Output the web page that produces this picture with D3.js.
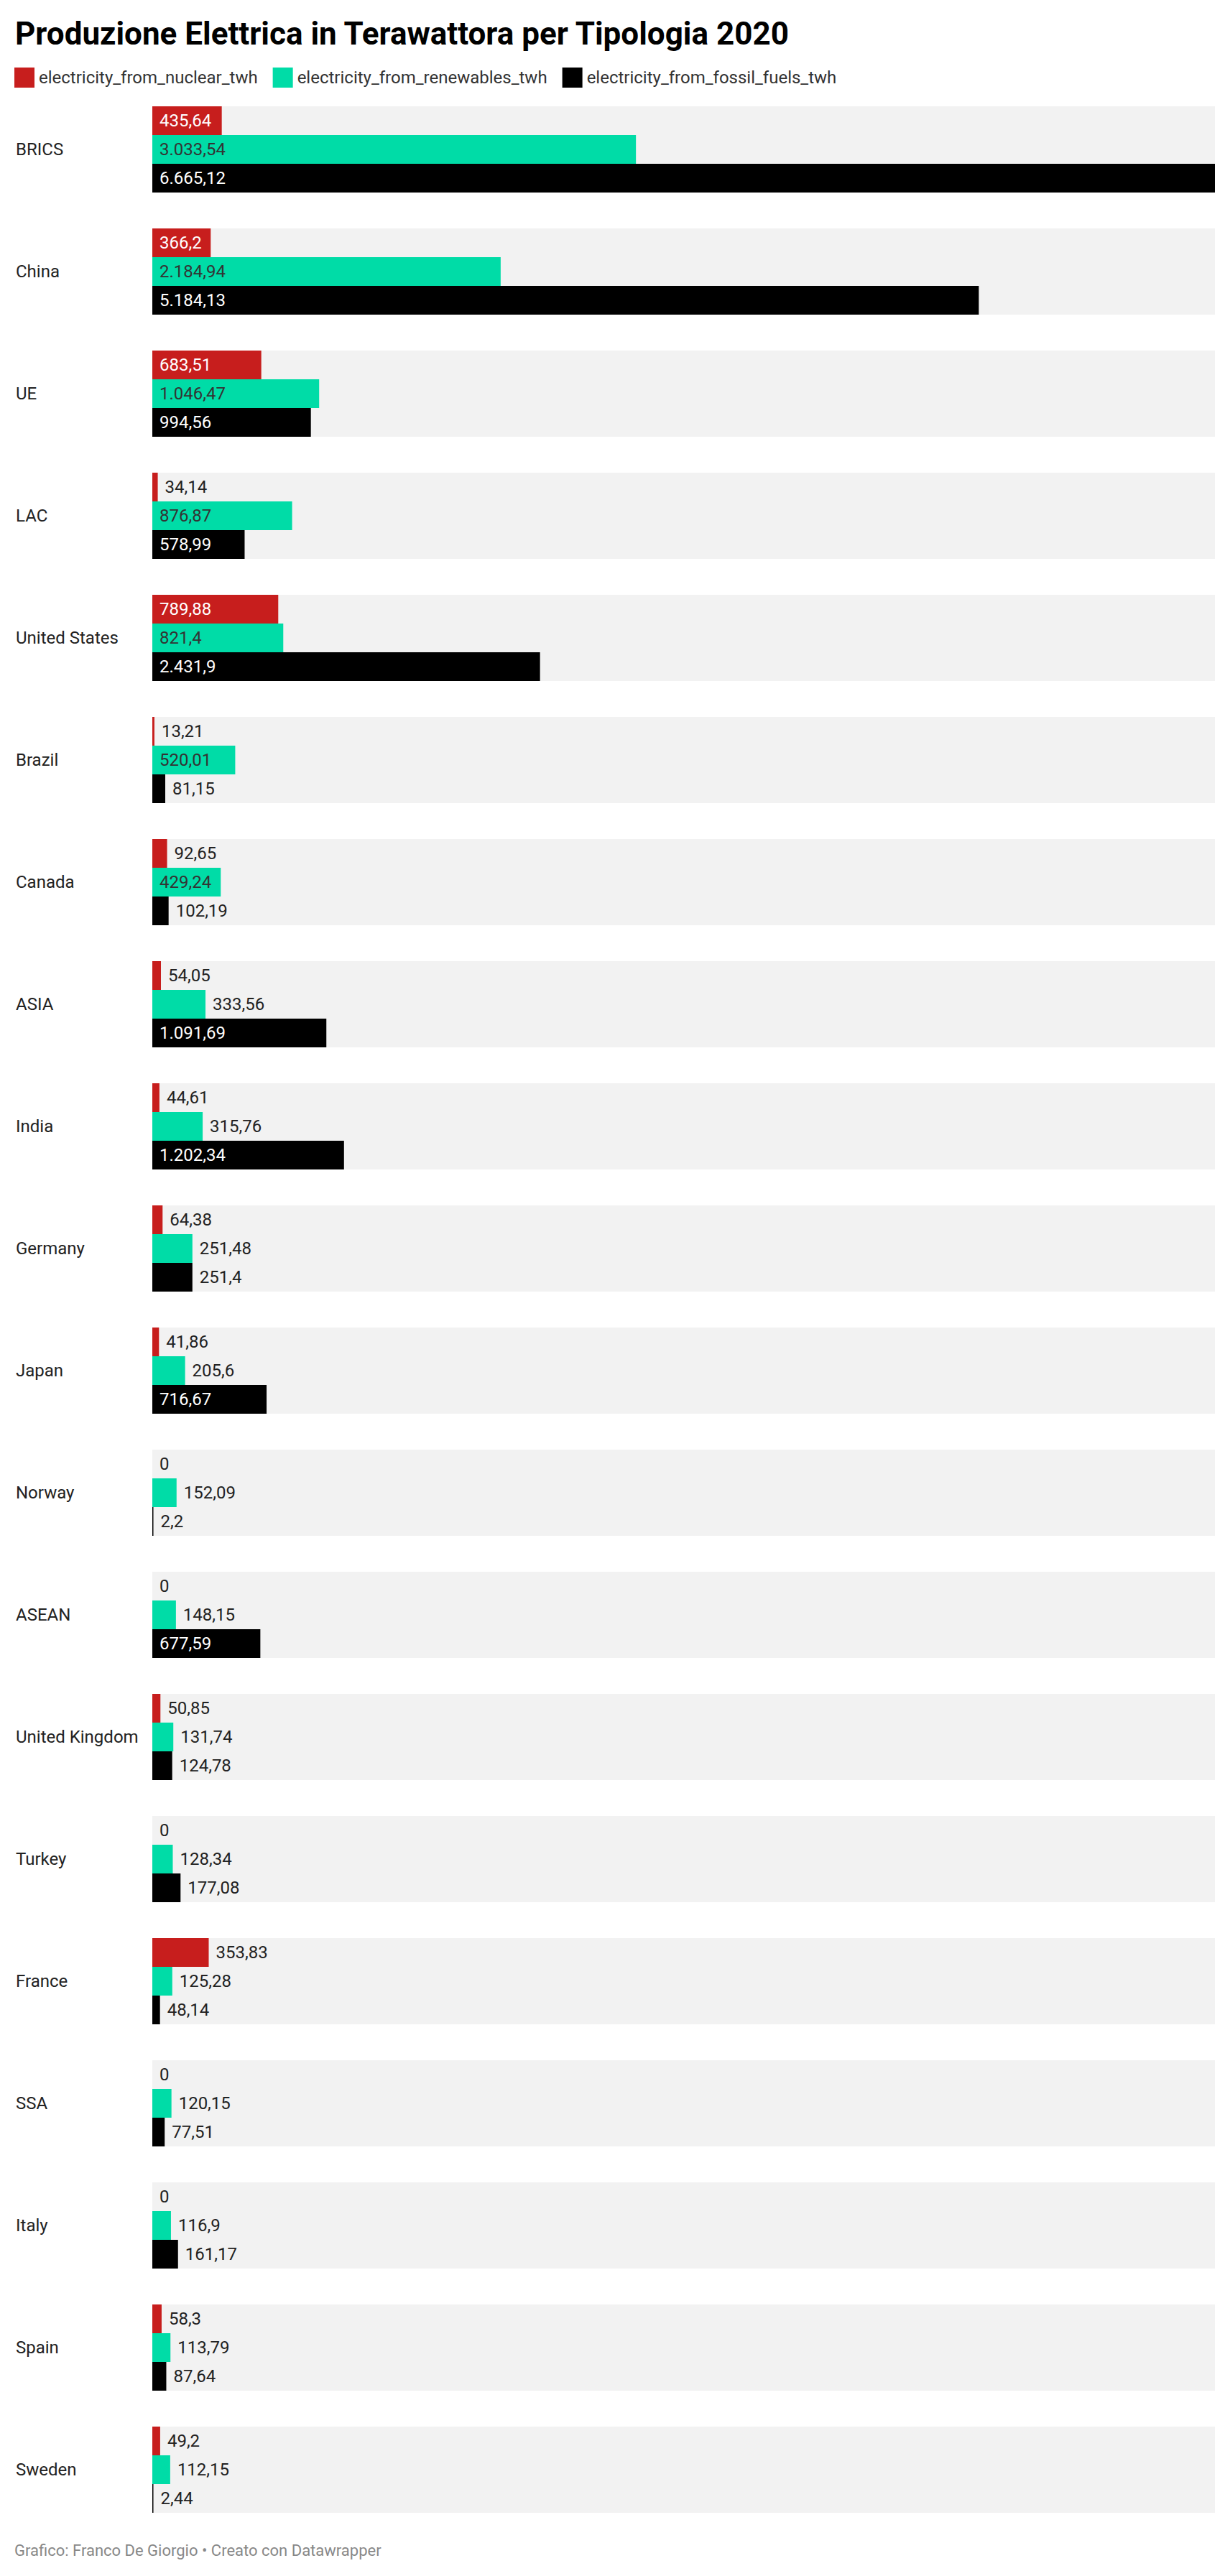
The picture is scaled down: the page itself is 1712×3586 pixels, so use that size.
<!DOCTYPE html>
<html>
<head>
<meta charset="utf-8">
<script src="https://cdn.jsdelivr.net/npm/d3@7"></script>
<style>
  html, body { margin: 0; padding: 0; background: #fff; }
  svg { display: block; font-family: Roboto, "Noto Sans", sans-serif; }
</style>
</head>
<body>
<svg id="chart" width="1712" height="3586"></svg>
<script>
const title = "Produzione Elettrica in Terawattora per Tipologia 2020";
const footer = "Grafico: Franco De Giorgio \u2022 Creato con Datawrapper";
const categories = ["BRICS","China","UE","LAC","United States","Brazil","Canada","ASIA","India","Germany","Japan","Norway","ASEAN","United Kingdom","Turkey","France","SSA","Italy","Spain","Sweden"];
const seriesNames = ["electricity_from_nuclear_twh","electricity_from_renewables_twh","electricity_from_fossil_fuels_twh"];
const seriesColors = ["#c71e1d","#00dca7","#000000"];
const nuclear = [435.64,366.2,683.51,34.14,789.88,13.21,92.65,54.05,44.61,64.38,41.86,0,0,50.85,0,353.83,0,0,58.3,49.2];
const renewables = [3033.54,2184.94,1046.47,876.87,821.4,520.01,429.24,333.56,315.76,251.48,205.6,152.09,148.15,131.74,128.34,125.28,120.15,116.9,113.79,112.15];
const fossil = [6665.12,5184.13,994.56,578.99,2431.9,81.15,102.19,1091.69,1202.34,251.4,716.67,2.2,677.59,124.78,177.08,48.14,77.51,161.17,87.64,2.44];
const seriesValues = [nuclear, renewables, fossil];
const insideTextColors = ["#ffffff","#333333","#ffffff"];

const svg = d3.select("#chart");
const fmt = d3.formatLocale({decimal: ",", thousands: ".", grouping: [3], currency: ["", "€"]});
const fmtVal = v => {
  const s = fmt.format(",.2f")(v);
  return s.replace(/,?0+$/, "").replace(/,$/, "") || "0";
};

// Title
svg.append("text").attr("x", 21).attr("y", 62)
  .attr("font-size", 44).attr("font-weight", 700).attr("fill", "#000")
  .text(title);

// Legend
let lx = 20;
seriesNames.forEach((name, i) => {
  const g = svg.append("g");
  g.append("rect").attr("x", lx).attr("y", 94).attr("width", 28).attr("height", 28).attr("fill", seriesColors[i]);
  const t = g.append("text").attr("x", lx + 34).attr("y", 116).attr("font-size", 24).attr("fill", "#333").text(name);
  lx = lx + 34 + t.node().getComputedTextLength() + 21;
});

// Scales
const x = d3.scaleLinear().domain([0, d3.max(fossil)]).range([212, 1691]);
const y = d3.scaleBand().domain(categories).range([148, 3498]).paddingInner(50/170).paddingOuter(0);
const ys = d3.scaleBand().domain(d3.range(seriesNames.length)).range([0, y.bandwidth()]).padding(0);

const groups = svg.append("g").selectAll("g").data(categories).join("g")
  .attr("transform", d => `translate(0,${y(d)})`);

groups.append("rect").attr("x", x(0)).attr("y", 0)
  .attr("width", x.range()[1] - x(0)).attr("height", y.bandwidth()).attr("fill", "#f2f2f2");

groups.append("text").attr("x", 22).attr("y", y.bandwidth() / 2).attr("dy", "0.35em")
  .attr("font-size", 24).attr("fill", "#222").text(d => d);

groups.each(function(cat, ci) {
  const g = d3.select(this);
  seriesValues.forEach((vals, si) => {
    const v = vals[ci];
    let w = x(v) - x(0);
    if (v > 0 && w < 1.5) w = 1.5;
    g.append("rect").attr("x", x(0)).attr("y", ys(si)).attr("width", w).attr("height", ys.bandwidth())
      .attr("fill", seriesColors[si]);
    const t = g.append("text").attr("y", ys(si) + ys.bandwidth() / 2).attr("dy", "0.35em")
      .attr("font-size", 24).text(fmtVal(v));
    const tw = t.node().getComputedTextLength();
    if (w >= tw + 20) {
      t.attr("x", x(0) + 10).attr("fill", insideTextColors[si]);
    } else {
      t.attr("x", x(0) + w + 10).attr("fill", "#222");
    }
  });
});

// Footer
svg.append("text").attr("x", 20).attr("y", 3558).attr("font-size", 22).attr("fill", "#888").text(footer);
</script>
</body>
</html>
